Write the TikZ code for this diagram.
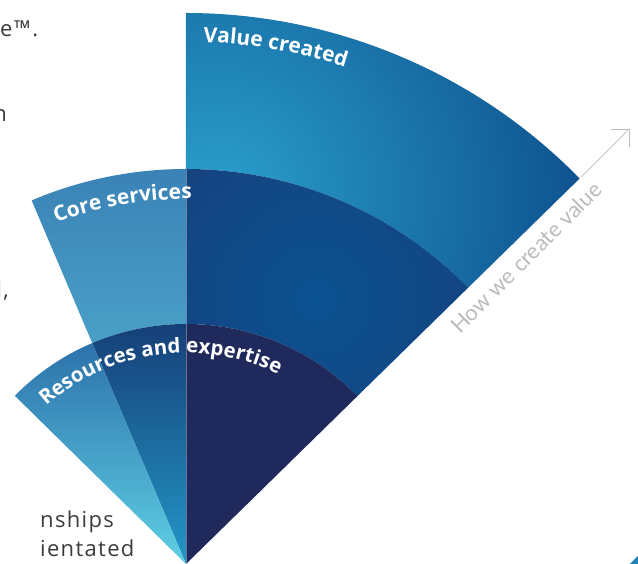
\documentclass[tikz,border=0pt]{standalone}
\usepackage{fontspec}
\setmainfont{Open Sans}
\newfontfamily\bodyfont{Open Sans}[LetterSpace=6]
\newfontfamily\labelfont{Open Sans}
\newfontfamily\arrowfont{Lato}
\usetikzlibrary{decorations.text}

\definecolor{outerlight}{HTML}{2AA0CD}
\definecolor{outerdark}{HTML}{0A4787}
\definecolor{midlight}{HTML}{0B5291}
\definecolor{middark}{HTML}{21306A}
\definecolor{navy}{HTML}{1F295B}
\definecolor{coretop}{HTML}{3A82B6}
\definecolor{corebottom}{HTML}{4AA0C7}
\definecolor{restop}{HTML}{2C72AB}
\definecolor{resbottom}{HTML}{5FD0E4}
\definecolor{resmidtop}{HTML}{163F78}
\definecolor{resmidbottom}{HTML}{2398C6}
\definecolor{arrowgray}{HTML}{BBBBBB}
\definecolor{bodygray}{HTML}{3C3C3C}
\definecolor{cornerteal}{HTML}{1F80B8}

\tikzset{
  bodytext/.style={text=bodygray, font=\bodyfont\fontsize{22}{26}\selectfont, inner sep=0pt},
  arclabel/.style 2 args={decorate, decoration={text along path, text align=left,
      text color=white, text={|\labelfont\bfseries\fontsize{#1}{25}\selectfont|#2}}},
  guide/.style={arrowgray, line width=0.7pt},
  divider/.style={white, opacity=0.35, line width=0.5pt}
}

\begin{document}
\begin{tikzpicture}[x=1pt,y=1pt]
\useasboundingbox (-186,0) rectangle (452,564);

% fan centre
\coordinate (O) at (0,0);

% outer band: value created
\begin{scope}
  \clip (90:395) -- (90:551) arc[start angle=90,end angle=44.4,radius=551pt]
        -- (44.4:395) arc[start angle=44.4,end angle=90,radius=395pt] -- cycle;
  \shade[inner color=outerlight, outer color=outerdark] (30,368) circle[radius=420pt];
\end{scope}

% middle band, right half
\begin{scope}
  \clip (90:240) -- (90:395) arc[start angle=90,end angle=44.4,radius=395pt]
        -- (44.4:240) arc[start angle=44.4,end angle=90,radius=240pt] -- cycle;
  \shade[inner color=midlight, outer color=middark] (130,265) circle[radius=400pt];
\end{scope}

% middle band, left part: core services
\shade[top color=coretop, bottom color=corebottom]
  (113:240) -- (113:395) arc[start angle=113,end angle=90,radius=395pt]
  -- (90:240) arc[start angle=90,end angle=113,radius=240pt] -- cycle;

% inner band: resources and expertise
\fill[navy] (O) -- (90:240) arc[start angle=90,end angle=44.4,radius=240pt] -- cycle;
\shade[top color=resmidtop, bottom color=resmidbottom]
  (O) -- (113:240) arc[start angle=113,end angle=90,radius=240pt] -- cycle;
\shade[top color=restop, bottom color=resbottom]
  (O) -- (135.5:240) arc[start angle=135.5,end angle=113,radius=240pt] -- cycle;

% centre divider
\draw[divider] (O) -- (90:395);

% curved band titles
\path[arclabel={21}{Value created}] (88.1:522) arc[start angle=88.1,end angle=60,radius=522pt];
\path[arclabel={21}{Core services}] (110.8:365) arc[start angle=110.8,end angle=80,radius=365pt];
\path[arclabel={20.4}{Resources and expertise}] (131.5:211) arc[start angle=131.5,end angle=50,radius=211pt];

% direction arrow
\coordinate (edgeend) at (44.4:553);
\coordinate (tip) at (443,435);
\draw[guide] (edgeend) -- (tip);
\draw[guide] ([xshift=-18pt]tip) -- (tip) -- ([yshift=-18pt]tip);
\node[anchor=base west, rotate=45, inner sep=0pt, text=arrowgray,
      font=\arrowfont\fontsize{22}{26}\selectfont] (howlabel) at (274,229) {How we create value};

% body text fragments at the left margin
\node[bodytext, anchor=base west] (frag1) at (-186,527) {e™.};
\node[bodytext, anchor=base east] (frag2) at (-179,442) {n};
\node[bodytext, anchor=base east] (frag3) at (-177,266) {d,};
\node[bodytext, anchor=base west] (frag4) at (-146,36) {nships};
\node[bodytext, anchor=base west] (frag5) at (-146,7) {ientated};

% corner accent
\fill[cornerteal] (444,0) -- (452,8) -- (452,0) -- cycle;
\end{tikzpicture}
\end{document}
